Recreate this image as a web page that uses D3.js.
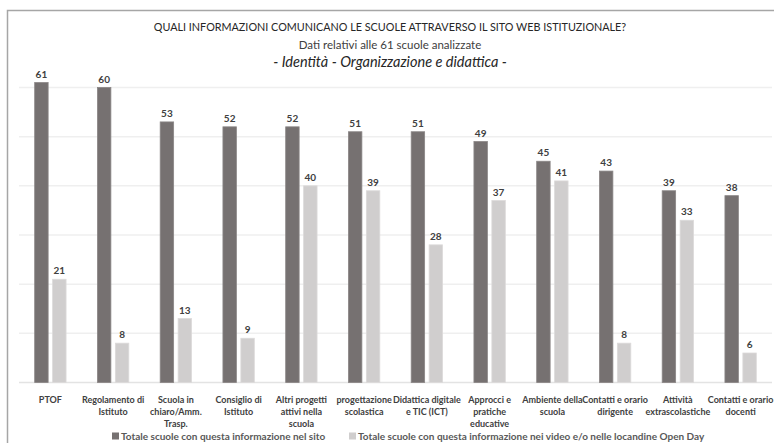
<!DOCTYPE html>
<html>
<head>
<meta charset="utf-8">
<script src="https://cdn.jsdelivr.net/npm/d3@7"></script>
<style>
  body { margin: 0; background: #fff; }
  svg text { font-family: Lato, "Open Sans", sans-serif; }
</style>
</head>
<body>
<div id="vis"></div>
<script>
// categories (wrapped tick labels) and series
const categories = [
  ['PTOF'],
  ['Regolamento di', 'Istituto'],
  ['Scuola in', 'chiaro/Amm.', 'Trasp.'],
  ['Consiglio di', 'Istituto'],
  ['Altri progetti', 'attivi nella', 'scuola'],
  ['progettazione', 'scolastica'],
  ['Didattica digitale', 'e TIC (ICT)'],
  ['Approcci e', 'pratiche', 'educative'],
  ['Ambiente della', 'scuola'],
  ['Contatti e orario', 'dirigente'],
  ['Attività', 'extrascolastiche'],
  ['Contatti e orario', 'docenti']
];
const sito = [61, 60, 53, 52, 52, 51, 51, 49, 45, 43, 39, 38];
const openDay = [21, 8, 13, 9, 40, 39, 28, 37, 41, 8, 33, 6];
const seriesNames = [
  'Totale scuole con questa informazione nel sito',
  'Totale scuole con questa informazione nei video e/o nelle locandine Open Day'
];
const yTicks = [0, 10, 20, 30, 40, 50, 60];

const colors = ['#767171', '#d0cece'];

const width = 774, height = 443;
const svg = d3.select('#vis').append('svg')
  .attr('width', width)
  .attr('height', height);

// frame (cropped box)
svg.append('path')
  .attr('d', `M7.5,${height} V10.5 H${width}`)
  .attr('fill', 'none')
  .attr('stroke', '#a6a6a6')
  .attr('stroke-width', 1.5);

// titles
svg.append('text')
  .attr('x', 390).attr('y', 31)
  .attr('text-anchor', 'middle')
  .style('font-size', '10.8px')
  .style('fill', '#262626')
  .text('QUALI INFORMAZIONI COMUNICANO LE SCUOLE ATTRAVERSO IL SITO WEB ISTITUZIONALE?');
svg.append('text')
  .attr('x', 390).attr('y', 49)
  .attr('text-anchor', 'middle')
  .style('font-size', '11.5px')
  .style('fill', '#404040')
  .text('Dati relativi alle 61 scuole analizzate');
svg.append('text')
  .attr('x', 390).attr('y', 67)
  .attr('text-anchor', 'middle')
  .style('font-size', '14.5px')
  .style('font-style', 'italic')
  .style('fill', '#262626')
  .text('- Identità - Organizzazione e didattica -');

const x = d3.scaleBand()
  .domain(d3.range(categories.length))
  .range([19, 772]);

const xs = d3.scaleBand()
  .domain([0, 1])
  .range([x.bandwidth() * 0.25, x.bandwidth() * 0.75])
  .paddingInner(0.25);

const y = d3.scaleLinear()
  .domain([0, 60])
  .range([382.5, 87.5]);

// gridlines
svg.append('g')
  .selectAll('line')
  .data(yTicks)
  .join('line')
    .attr('x1', 19).attr('x2', 772)
    .attr('y1', d => y(d)).attr('y2', d => y(d))
    .attr('stroke', d => d === 0 ? '#e3e3e3' : '#efefef')
    .attr('stroke-width', 1.5);

const series = [sito, openDay];

const groups = svg.append('g')
  .selectAll('g')
  .data(categories)
  .join('g')
    .attr('transform', (d, i) => `translate(${x(i)},0)`);

series.forEach((vals, s) => {
  groups.append('rect')
    .attr('x', xs(s))
    .attr('width', xs.bandwidth())
    .attr('y', (d, i) => y(vals[i]))
    .attr('height', (d, i) => y(0) - y(vals[i]))
    .attr('fill', colors[s])
    .attr('stroke', s === 0 ? '#8a8686' : '#dcdada')
    .attr('stroke-width', 0.8);

  groups.append('text')
    .attr('x', xs(s) + xs.bandwidth() / 2)
    .attr('y', (d, i) => y(vals[i]) - 5)
    .attr('text-anchor', 'middle')
    .style('font-size', '10px')
    .style('font-weight', 'bold')
    .style('fill', '#404040')
    .text((d, i) => vals[i]);
});

// category labels
groups.append('text')
  .attr('text-anchor', 'middle')
  .style('font-size', '9px')
  .style('font-weight', 'bold')
  .style('fill', '#404040')
  .selectAll('tspan')
  .data(d => d)
  .join('tspan')
    .attr('x', x.bandwidth() / 2)
    .attr('y', (d, j) => 403 + j * 11.8)
    .text(d => d);

// legend
const legendX = [112, 349];
const legend = svg.append('g')
  .selectAll('g')
  .data(seriesNames)
  .join('g')
    .attr('transform', (d, i) => `translate(${legendX[i]},436)`);
legend.append('rect')
  .attr('x', 0).attr('y', -3.5)
  .attr('width', 7).attr('height', 7)
  .attr('fill', (d, i) => colors[i]);
legend.append('text')
  .attr('x', 9).attr('y', 3.5)
  .style('font-size', '10px')
  .style('font-weight', 'bold')
  .style('fill', '#595959')
  .text(d => d);
</script>
</body>
</html>
